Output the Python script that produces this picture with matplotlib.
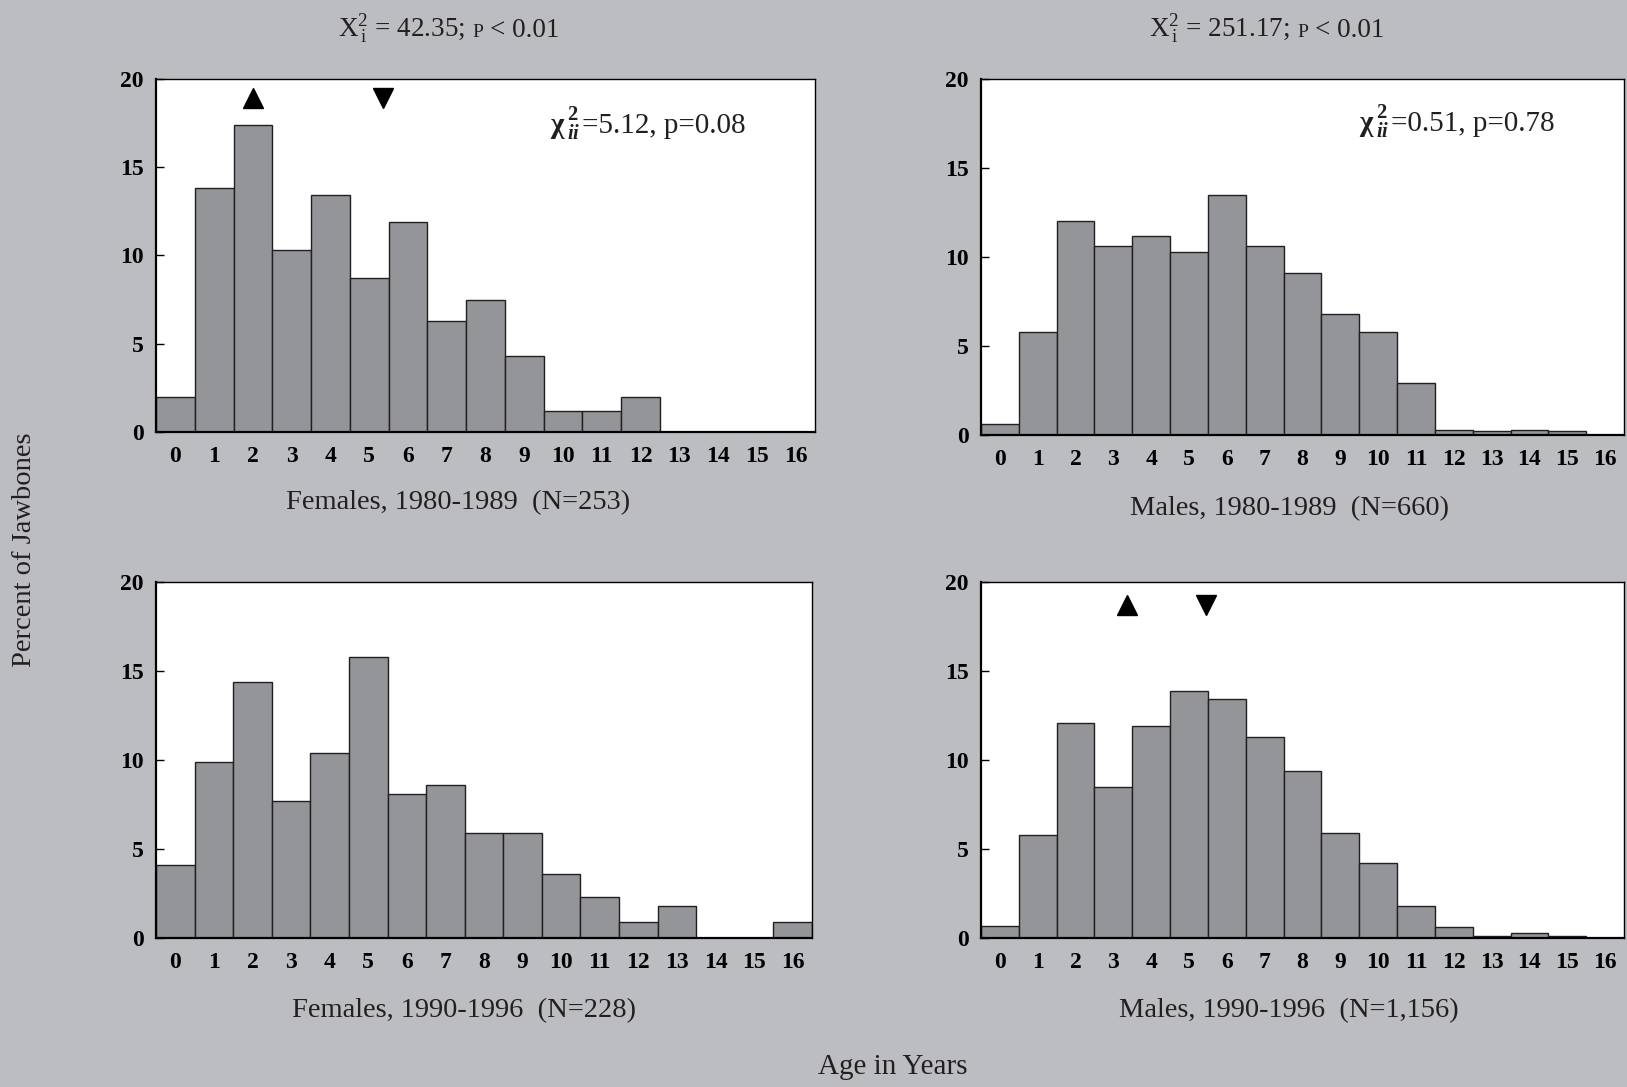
import numpy as np
import matplotlib.pyplot as plt

plt.rcParams['font.family'] = 'Liberation Serif'
plt.rcParams['mathtext.fontset'] = 'custom'
plt.rcParams['mathtext.rm'] = 'Liberation Serif'
plt.rcParams['mathtext.it'] = 'Liberation Serif:italic'
plt.rcParams['mathtext.bf'] = 'Liberation Serif:bold'
plt.rcParams['mathtext.bfit'] = 'Liberation Serif:bold:italic'

# percent of jawbones in each age class (years 0..16)
ages = np.arange(17)
fem_80s = [2.0, 13.8, 17.4, 10.3, 13.4, 8.7, 11.9, 6.3, 7.5, 4.3, 1.2, 1.2, 2.0, 0, 0, 0, 0]
male_80s = [0.6, 5.8, 12.0, 10.6, 11.2, 10.3, 13.5, 10.6, 9.1, 6.8, 5.8, 2.9, 0.3, 0.2, 0.3, 0.2, 0]
fem_90s = [4.1, 9.9, 14.4, 7.7, 10.4, 15.8, 8.1, 8.6, 5.9, 5.9, 3.6, 2.3, 0.9, 1.8, 0, 0, 0.9]
male_90s = [0.7, 5.8, 12.1, 8.5, 11.9, 13.9, 13.4, 11.3, 9.4, 5.9, 4.2, 1.8, 0.6, 0.1, 0.3, 0.1, 0]

labels = ["Females, 1980-1989  (N=253)", "Males, 1980-1989  (N=660)",
          "Females, 1990-1996  (N=228)", "Males, 1990-1996  (N=1,156)"]
chi_vals = ["=5.12, p=0.08", "=0.51, p=0.78"]
title_vals = ["42.35", "251.17"]
# up / down arrow positions (age) and height
arrows = [(2.0, 5.35), None, None, (3.35, 5.45)]
arrow_y = [18.9, None, None, 18.7]

bg = "#bcbdc1"
bar_c = "#939599"
edge_c = "#231f20"
ink = "#231f20"

fig = plt.figure(figsize=(16.27, 10.87), dpi=100, facecolor=bg)
W, H = 1627, 1087

# axes boxes in pixels: left, top, right, bottom
boxes = [(156, 79, 815, 432), (981, 79, 1624, 435),
         (156, 582, 812, 938), (981, 582, 1624, 938)]
label_pos = [(458, 503), (1290, 509), (464, 1011), (1289, 1011)]

for i, data in enumerate([fem_80s, male_80s, fem_90s, male_90s]):
    l, t, r, b = boxes[i]
    ax = fig.add_axes([l / W, 1 - b / H, (r - l) / W, (b - t) / H])
    ax.bar(ages, data, width=1.0, color=bar_c, edgecolor=edge_c, linewidth=1.0)
    ax.set_xlim(-0.5, 16.5)
    ax.set_ylim(0, 20)
    ax.set_xticks(ages)
    ax.set_yticks([0, 5, 10, 15, 20])
    ax.tick_params(axis='x', length=0, pad=10, labelsize=17)
    ax.tick_params(axis='y', direction='in', length=6, width=1, pad=9, labelsize=17)
    for lab in ax.get_xticklabels() + ax.get_yticklabels():
        lab.set_fontweight('bold')
    for side in ['top', 'right']:
        ax.spines[side].set_linewidth(1.0)
    for side in ['left', 'bottom']:
        ax.spines[side].set_linewidth(1.6)
    ax.set_facecolor('white')

    if arrows[i]:
        up, down = arrows[i]
        ax.plot(up, arrow_y[i], marker='^', color='black', markersize=14, clip_on=False)
        ax.plot(down, arrow_y[i], marker='v', color='black', markersize=14, clip_on=False)

    lx, ly = label_pos[i]
    fig.text(lx / W, 1 - ly / H, labels[i], fontsize=20.5, ha='center', va='center',
             color=ink)


def text_run(x0, y0, pieces, centre=True):
    # draw (text, size, weight, gap) pieces side by side on one baseline (pixels)
    renderer = fig.canvas.get_renderer()
    objs = []
    widths = []
    for s, size, weight, gap in pieces:
        t = fig.text(0, 1 - y0 / H, s, fontsize=size, fontweight=weight,
                     ha='left', va='baseline', color=ink, zorder=5)
        widths.append(t.get_window_extent(renderer).width + gap)
        objs.append(t)
    x = x0 - sum(widths) / 2 if centre else x0
    for t, w in zip(objs, widths):
        t.set_x(x / W)
        x += w


# overall chi-square per column
for xc, val in zip([449, 1267], title_vals):
    text_run(xc, 37, [(r"X$^{2}_{\,\mathrm{i}}$ = " + val + ";", 19.5, 'normal', 7),
                      ("P", 14, 'normal', 7), ("< 0.01", 19.5, 'normal', 0)])

# chi-square within the top panels
for (x0, y0), val in zip([(550, 133), (1359, 131)], chi_vals):
    text_run(x0, y0, [("χ", 21, 'bold', 4),
                      (r"$^{\mathbf{2}}_{\mathbfit{ii}}$", 21, 'normal', 1),
                      (val, 21, 'normal', 0)], centre=False)

fig.text(25 / W, 1 - 550 / H, "Percent of Jawbones", rotation=90, fontsize=20.5,
         ha='center', va='center', color=ink)
fig.text(893 / W, 1 - 1067 / H, "Age in Years", fontsize=21, ha='center', va='center',
         color=ink)

fig.savefig("out.png", dpi=100, facecolor=bg)
